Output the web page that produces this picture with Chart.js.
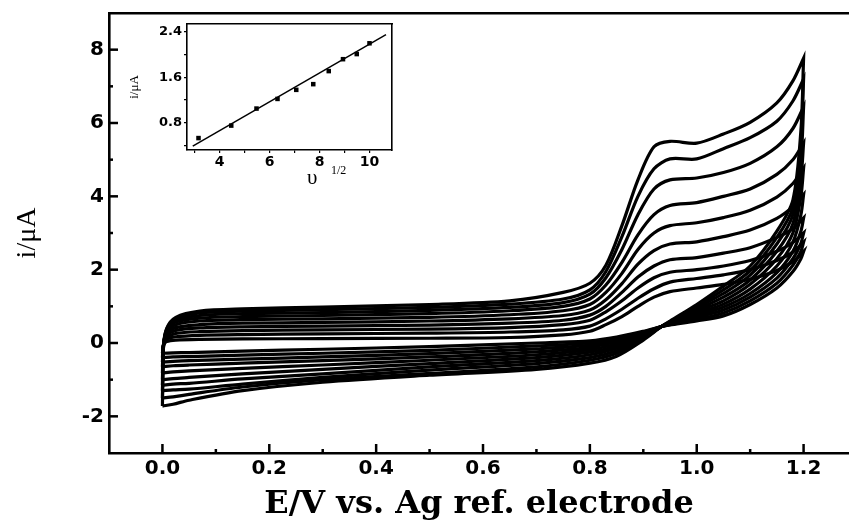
<!DOCTYPE html>
<html><head><meta charset="utf-8">
<script src="https://cdn.jsdelivr.net/npm/chart.js@4.4.0/dist/chart.umd.min.js"></script>
<style>
html,body{margin:0;padding:0;background:#fff;overflow:hidden;}
#wrap{position:relative;width:849px;height:524px;}
#main{position:absolute;left:0;top:0;}
#inset{position:absolute;left:120px;top:18px;}
</style></head><body>
<div id="wrap">
<canvas id="main" width="849" height="524"></canvas>
<canvas id="inset" width="285" height="185"></canvas>
</div>
<script>
// ---- Potentials (V) for the forward (anodic) and reverse (cathodic) sweeps
const potentialFwd = [0, 0.002, 0.008, 0.025, 0.07, 0.15, 0.3, 0.5, 0.65, 0.75, 0.8, 0.83, 0.86, 0.89, 0.92, 0.95, 1.0, 1.05, 1.1, 1.15, 1.18, 1.2];
const potentialRev = [1.2, 1.195, 1.18, 1.15, 1.1, 1.05, 1.0, 0.95, 0.934, 0.9, 0.85, 0.8, 0.7, 0.5, 0.3, 0.15, 0.05, 0.02];

// ---- Currents (uA), one voltammogram per scan rate (mV/s)
const iFwd10  = [-0.28, -0.05, 0.04, 0.08, 0.10, 0.11, 0.12, 0.13, 0.15, 0.22, 0.32, 0.50, 0.72, 1.00, 1.25, 1.40, 1.50, 1.60, 1.74, 1.98, 2.22, 2.50];
const iRev10  = [2.50, 2.30, 1.95, 1.50, 1.05, 0.74, 0.60, 0.49, 0.45, 0.32, 0.16, 0.06, 0.00, -0.10, -0.17, -0.22, -0.26, -0.27];
const iFwd20  = [-0.40, -0.05, 0.10, 0.17, 0.21, 0.23, 0.25, 0.27, 0.30, 0.36, 0.46, 0.66, 0.92, 1.22, 1.48, 1.66, 1.76, 1.86, 2.00, 2.25, 2.48, 2.75];
const iRev20  = [2.75, 2.50, 2.12, 1.63, 1.15, 0.82, 0.65, 0.50, 0.45, 0.30, 0.12, 0.00, -0.08, -0.20, -0.28, -0.33, -0.37, -0.38];
const iFwd30  = [-0.52, -0.05, 0.15, 0.26, 0.31, 0.34, 0.36, 0.38, 0.42, 0.50, 0.62, 0.85, 1.15, 1.50, 1.78, 1.93, 2.00, 2.10, 2.25, 2.50, 2.74, 3.00];
const iRev30  = [3.00, 2.72, 2.30, 1.77, 1.25, 0.90, 0.70, 0.51, 0.45, 0.27, 0.08, -0.06, -0.16, -0.29, -0.38, -0.44, -0.48, -0.50];
const iFwd40  = [-0.65, -0.05, 0.20, 0.34, 0.41, 0.44, 0.46, 0.49, 0.54, 0.62, 0.76, 1.00, 1.38, 1.80, 2.10, 2.27, 2.33, 2.45, 2.60, 2.88, 3.12, 3.41];
const iRev40  = [3.41, 3.05, 2.50, 1.92, 1.35, 0.98, 0.75, 0.52, 0.45, 0.25, 0.04, -0.12, -0.24, -0.38, -0.48, -0.55, -0.60, -0.62];
const iFwd50  = [-0.82, -0.06, 0.24, 0.42, 0.50, 0.54, 0.56, 0.60, 0.66, 0.75, 0.90, 1.18, 1.62, 2.15, 2.52, 2.70, 2.76, 2.90, 3.08, 3.40, 3.72, 4.05];
const iRev50  = [4.05, 3.50, 2.75, 2.10, 1.47, 1.06, 0.80, 0.54, 0.45, 0.22, -0.02, -0.18, -0.32, -0.47, -0.60, -0.69, -0.76, -0.79];
const iFwd60  = [-1.00, -0.07, 0.28, 0.50, 0.60, 0.64, 0.66, 0.70, 0.77, 0.88, 1.05, 1.38, 1.90, 2.55, 3.00, 3.20, 3.28, 3.42, 3.62, 3.98, 4.35, 4.77];
const iRev60  = [4.77, 4.00, 3.00, 2.30, 1.60, 1.15, 0.86, 0.55, 0.45, 0.20, -0.08, -0.25, -0.40, -0.56, -0.72, -0.84, -0.94, -0.97];
const iFwd70  = [-1.15, -0.08, 0.32, 0.57, 0.68, 0.72, 0.75, 0.80, 0.88, 1.00, 1.20, 1.58, 2.20, 2.95, 3.50, 3.75, 3.83, 4.00, 4.20, 4.60, 5.00, 5.45];
const iRev70  = [5.45, 4.50, 3.25, 2.50, 1.72, 1.25, 0.91, 0.56, 0.45, 0.17, -0.14, -0.32, -0.48, -0.65, -0.84, -0.98, -1.10, -1.12];
const iFwd80  = [-1.30, -0.09, 0.35, 0.62, 0.75, 0.80, 0.83, 0.89, 0.97, 1.10, 1.33, 1.78, 2.55, 3.50, 4.20, 4.45, 4.50, 4.65, 4.90, 5.35, 5.85, 6.44];
const iRev80  = [6.44, 5.00, 3.50, 2.70, 1.85, 1.35, 0.96, 0.57, 0.45, 0.14, -0.21, -0.40, -0.56, -0.74, -0.94, -1.12, -1.26, -1.28];
const iFwd90  = [-1.50, -0.10, 0.38, 0.66, 0.82, 0.87, 0.91, 0.97, 1.06, 1.20, 1.45, 1.95, 2.90, 4.00, 4.75, 5.02, 5.02, 5.30, 5.60, 6.05, 6.60, 7.20];
const iRev90  = [7.20, 5.40, 3.70, 2.88, 1.97, 1.45, 1.00, 0.58, 0.45, 0.11, -0.28, -0.47, -0.65, -0.83, -1.00, -1.20, -1.40, -1.47];
const iFwd100 = [-1.72, -0.10, 0.40, 0.70, 0.87, 0.93, 0.98, 1.05, 1.15, 1.38, 1.63, 2.12, 3.20, 4.45, 5.35, 5.50, 5.45, 5.70, 6.02, 6.55, 7.15, 7.77];
const iRev100 = [7.77, 5.80, 3.90, 3.05, 2.10, 1.55, 1.05, 0.60, 0.45, 0.08, -0.36, -0.55, -0.72, -0.88, -1.07, -1.30, -1.56, -1.67];

// ---- Axis ticks (main plot)
const xMajorTicks = [0, 0.2, 0.4, 0.6, 0.8, 1.0, 1.2];
const xMinorTicks = [0.1, 0.3, 0.5, 0.7, 0.9, 1.1];
const yMajorTicks = [-2, 0, 2, 4, 6, 8];
const yMinorTicks = [-1, 1, 3, 5, 7];

// ---- Inset: peak current vs square root of scan rate
const insetSqrtRate = [3.16, 4.47, 5.48, 6.32, 7.07, 7.75, 8.37, 8.94, 9.49, 10.0];
const insetPeakCurrent = [0.53, 0.75, 1.05, 1.22, 1.38, 1.48, 1.71, 1.92, 2.01, 2.20];
const insetFitX = [2.93, 10.66];
const insetFitY = [0.39, 2.354];
const insetXTicks = [3, 4, 5, 6, 7, 8, 9, 10];
const insetXLabels = [4, 6, 8, 10];
const insetYTicks = [0.4, 0.8, 1.2, 1.6, 2.0, 2.4];
const insetYLabels = [0.8, 1.6, 2.4];

const curves = [
  [iFwd10, iRev10], [iFwd20, iRev20], [iFwd30, iRev30], [iFwd40, iRev40], [iFwd50, iRev50],
  [iFwd60, iRev60], [iFwd70, iRev70], [iFwd80, iRev80], [iFwd90, iRev90], [iFwd100, iRev100]
];
function loop(fwd, rev) {
  const pts = potentialFwd.map((e, i) => ({x: e, y: fwd[i]}))
    .concat(potentialRev.map((e, i) => ({x: e, y: rev[i]})));
  pts.push({x: potentialFwd[0], y: fwd[0]});
  return pts;
}
const noPad = s => { s.paddingTop = 0; s.paddingBottom = 0; s.paddingLeft = 0; s.paddingRight = 0; };

const tickPlugin = {
  id: 'innerTicks',
  afterDraw(chart) {
    const {ctx, chartArea: a, scales: {x, y}} = chart;
    ctx.save();
    ctx.strokeStyle = '#000';
    ctx.lineWidth = 2.5;
    const seg = (x1, y1, x2, y2) => { ctx.beginPath(); ctx.moveTo(x1, y1); ctx.lineTo(x2, y2); ctx.stroke(); };
    xMajorTicks.forEach(v => { const p = x.getPixelForValue(v); seg(p, a.bottom, p, a.bottom - 9); });
    xMinorTicks.forEach(v => { const p = x.getPixelForValue(v); seg(p, a.bottom, p, a.bottom - 4); });
    yMajorTicks.forEach(v => { const p = y.getPixelForValue(v); seg(a.left, p, a.left + 9, p); });
    yMinorTicks.forEach(v => { const p = y.getPixelForValue(v); seg(a.left, p, a.left + 4, p); });
    ctx.restore();
  }
};

new Chart(document.getElementById('main'), {
  type: 'scatter',
  data: {
    datasets: curves.map(c => ({
      data: loop(c[0], c[1]),
      showLine: true,
      borderColor: '#000',
      borderWidth: 3.2,
      pointRadius: 0,
      tension: 0.3,
      fill: false
    }))
  },
  options: {
    responsive: false,
    animation: false,
    layout: {padding: {top: 13, left: 0, right: 0, bottom: 0}},
    plugins: {legend: {display: false}, tooltip: {enabled: false}},
    scales: {
      x: {
        type: 'linear', min: -0.1, max: 1.285,
        grid: {display: false, drawTicks: false},
        border: {display: true, color: '#000', width: 2.6},
        afterBuildTicks: s => { s.ticks = xMajorTicks.map(v => ({value: v})); },
        afterFit: s => { s.height = 71; noPad(s); },
        ticks: {
          color: '#000', padding: 4, maxRotation: 0,
          font: {family: 'DejaVu Sans', weight: 'bold', size: 20},
          callback: v => Number(v).toFixed(1)
        },
        title: {
          display: true, text: 'E/V vs. Ag ref. electrode', color: '#000',
          font: {family: 'DejaVu Serif', weight: 'bold', size: 32},
          padding: {top: 0, bottom: 0}
        }
      },
      xTop: {
        type: 'linear', position: 'top', min: -0.1, max: 1.285,
        grid: {display: false, drawTicks: false},
        ticks: {display: false},
        border: {display: true, color: '#000', width: 2.6},
        afterFit: s => { s.height = 0; noPad(s); }
      },
      y: {
        type: 'linear', min: -3, max: 9,
        grid: {display: false, drawTicks: false},
        border: {display: true, color: '#000', width: 2.6},
        afterBuildTicks: s => { s.ticks = yMajorTicks.map(v => ({value: v})); },
        afterFit: s => { s.width = 109; noPad(s); },
        ticks: {
          color: '#000', padding: 5,
          font: {family: 'DejaVu Sans', weight: 'bold', size: 20},
          callback: v => String(v)
        },
        title: {
          display: true, text: 'i/μA', color: '#000',
          font: {family: 'Liberation Serif', size: 28},
          padding: {top: 11, bottom: 0}
        }
      }
    }
  },
  plugins: [tickPlugin]
});

const insetTitlePlugin = {
  id: 'insetTitle',
  afterDraw(chart) {
    const ctx = chart.ctx;
    ctx.save();
    ctx.fillStyle = '#000';
    ctx.textBaseline = 'alphabetic';
    ctx.font = '21px "Liberation Serif"';
    ctx.fillText('υ', 187, 166);
    ctx.font = '12px "Liberation Serif"';
    ctx.fillText('1/2', 211, 156);
    ctx.restore();
  }
};

new Chart(document.getElementById('inset'), {
  data: {
    datasets: [
      {
        type: 'scatter',
        data: insetSqrtRate.map((v, i) => ({x: v, y: insetPeakCurrent[i]})),
        pointStyle: 'rect', pointRadius: 3.2,
        backgroundColor: '#000', borderColor: '#000', borderWidth: 0
      },
      {
        type: 'line',
        data: insetFitX.map((v, i) => ({x: v, y: insetFitY[i]})),
        borderColor: '#000', borderWidth: 1.5, pointRadius: 0, fill: false
      }
    ]
  },
  options: {
    responsive: false,
    animation: false,
    layout: {padding: {top: 6, left: 0, right: 13, bottom: 0}},
    plugins: {legend: {display: false}, tooltip: {enabled: false}},
    scales: {
      x: {
        type: 'linear', min: 2.7, max: 10.9,
        grid: {drawOnChartArea: false, tickLength: 3, color: '#000', lineWidth: 1.2},
        border: {display: true, color: '#000', width: 1.6},
        afterBuildTicks: s => { s.ticks = insetXTicks.map(v => ({value: v})); },
        afterFit: s => { s.height = 53; noPad(s); },
        ticks: {
          color: '#000', padding: 1, maxRotation: 0,
          font: {family: 'DejaVu Sans', weight: 'bold', size: 14},
          callback: v => insetXLabels.includes(v) ? String(v) : ''
        }
      },
      x2: {
        type: 'linear', position: 'top', min: 2.7, max: 10.9,
        grid: {display: false, drawTicks: false}, ticks: {display: false},
        border: {display: true, color: '#000', width: 1.6},
        afterFit: s => { s.height = 0; noPad(s); }
      },
      y: {
        type: 'linear', min: 0.32, max: 2.54,
        grid: {drawOnChartArea: false, tickLength: 3, color: '#000', lineWidth: 1.2},
        border: {display: true, color: '#000', width: 1.6},
        afterBuildTicks: s => { s.ticks = insetYTicks.map(v => ({value: v})); },
        afterFit: s => { s.width = 67; noPad(s); },
        ticks: {
          color: '#000', padding: 2,
          font: {family: 'DejaVu Sans', weight: 'bold', size: 13},
          callback: v => insetYLabels.some(t => Math.abs(t - v) < 1e-6) ? Number(v).toFixed(1) : ''
        },
        title: {
          display: true, text: 'i/μA', color: '#000',
          font: {family: 'Liberation Serif', size: 13},
          padding: {top: 7, bottom: 0}
        }
      },
      y2: {
        type: 'linear', position: 'right', min: 0.32, max: 2.54,
        grid: {display: false, drawTicks: false}, ticks: {display: false},
        border: {display: true, color: '#000', width: 1.6},
        afterFit: s => { s.width = 0; noPad(s); }
      }
    }
  },
  plugins: [insetTitlePlugin]
});
</script>
</body></html>
